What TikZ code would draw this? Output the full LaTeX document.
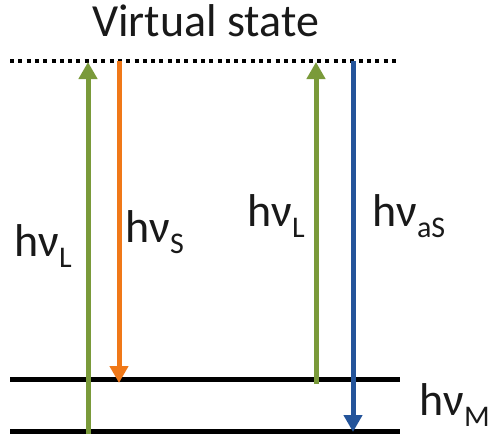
\documentclass[tikz,border=0pt]{standalone}
\usepackage{fontspec}
\setmainfont{Carlito}
\usetikzlibrary{arrows.meta}

\definecolor{laser}{HTML}{7A9A3A}
\definecolor{stokes}{HTML}{F07818}
\definecolor{antistokes}{HTML}{24549A}

% photon energy label h\nu with a dropped subscript
\newcommand{\photon}[1]{hν\raisebox{-11pt}{\fontsize{30}{30}\selectfont #1}}

\tikzset{
  level/.style={line width=5pt, black},
  virtual/.style={line width=4pt, black, dash pattern=on 4pt off 4.3pt},
  transition/.style={line width=5pt, -{Triangle[length=17pt,width=18pt]}, shorten >=1pt},
  lbl/.style={anchor=base west, inner sep=0pt, font=\fontsize{46}{46}\selectfont, text=black!90}
}

\begin{document}
\begin{tikzpicture}[x=1pt, y=-1pt]
  \useasboundingbox (0,0) rectangle (499,434);

  % energy levels
  \coordinate (v-l) at (10,61);  \coordinate (v-r) at (400,61);
  \coordinate (e1-l) at (10,379); \coordinate (e1-r) at (400,379);
  \coordinate (e0-l) at (10,431); \coordinate (e0-r) at (400,431);

  \draw[virtual] (v-l) -- (v-r);
  \draw[level] (e1-l) -- (e1-r);
  \draw[level] (e0-l) -- (e0-r);

  % transition end points
  \coordinate (a-bot) at (88,434);  \coordinate (a-top) at (88,61);
  \coordinate (s-top) at (119,61);  \coordinate (s-bot) at (119,384);
  \coordinate (b-bot) at (316,384); \coordinate (b-top) at (316,61);
  \coordinate (c-top) at (353,61);  \coordinate (c-bot) at (353,433);

  \draw[transition, laser] (a-bot) -- (a-top);
  \draw[transition, stokes] (s-top) -- (s-bot);
  \draw[transition, laser] (b-bot) -- (b-top);
  \draw[transition, antistokes] (c-top) -- (c-bot);

  % labels
  \node[lbl] (title) at (92,36) {Virtual state};
  \node[lbl] (lab-l1) at (14,256) {\photon{L}};
  \node[lbl] (lab-s) at (125,242) {\photon{S}};
  \node[lbl] (lab-l2) at (247,226) {\photon{L}};
  \node[lbl] (lab-as) at (372,226) {\photon{aS}};
  \node[lbl] (lab-m) at (419,415) {\photon{M}};
\end{tikzpicture}
\end{document}
